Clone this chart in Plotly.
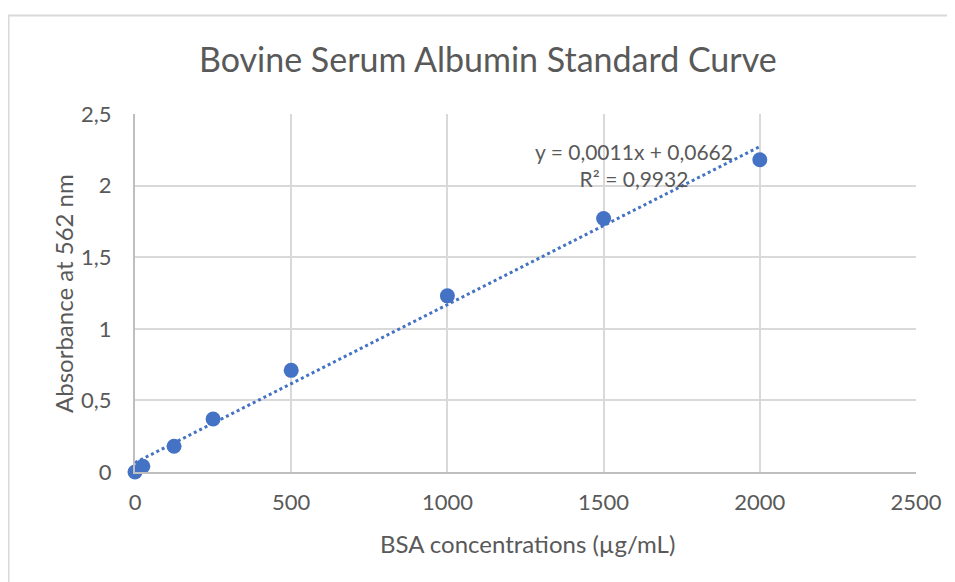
import numpy as np
import plotly.graph_objects as go

# Data
bsa_conc = [0, 25, 125, 250, 500, 1000, 1500, 2000]
absorbance = [0.0, 0.04, 0.18, 0.37, 0.71, 1.23, 1.77, 2.18]

x_tickvals = [0, 500, 1000, 1500, 2000, 2500]
x_ticktext = ["0", "500", "1000", "1500", "2000", "2500"]
y_tickvals = [0, 0.5, 1, 1.5, 2, 2.5]
y_ticktext = ["0", "0,5", "1", "1,5", "2", "2,5"]

title_text = "Bovine Serum Albumin Standard Curve"
x_title = "BSA concentrations (µg/mL)"
y_title = "Absorbance at 562 nm"
trend_label = "y = 0,0011x + 0,0662<br>R² = 0,9932"

# Linear trendline from the data
slope, intercept = np.polyfit(bsa_conc, absorbance, 1)
trend_x = [min(bsa_conc), max(bsa_conc)]
trend_y = [slope * v + intercept for v in trend_x]

BLUE = "#4472C4"
GRID = "#d9d9d9"
TXT = "#595959"
FONT = "Lato, Liberation Sans, Arial, sans-serif"

# plot area in page pixels (page has an 8px body offset)
OFF = 8
PL, PR, PT, PB = 135, 916, 114, 472
W, H = 955, 582
pw, ph = PR - PL, PB - PT


def px(xp):
    return (xp - PL) / pw


def py(yp):
    return (PB - yp) / ph


fig = go.Figure()
fig.add_trace(go.Scatter(
    x=trend_x, y=trend_y, mode="lines",
    line=dict(color=BLUE, width=3, dash="dot"),
    hoverinfo="skip", showlegend=False, cliponaxis=False,
))
fig.add_trace(go.Scatter(
    x=bsa_conc, y=absorbance, mode="markers",
    marker=dict(color=BLUE, size=15),
    showlegend=False, cliponaxis=False,
))

fig.update_layout(
    width=W, height=H,
    margin=dict(l=PL - OFF, r=W - (PR - OFF), t=PT - OFF, b=H - (PB - OFF)),
    paper_bgcolor="white", plot_bgcolor="white",
    font=dict(family=FONT, color=TXT, size=24),
    showlegend=False,
    annotations=[
        dict(text=title_text, xref="paper", yref="paper",
             x=px(488), y=py(59),
             xanchor="center", yanchor="middle", showarrow=False,
             font=dict(size=34, color=TXT, family=FONT)),
        dict(text=trend_label, xref="x", yref="y",
             x=1596, y=2.145, xanchor="center", yanchor="middle",
             showarrow=False, align="center",
             font=dict(size=21, color=TXT, family=FONT)),
        dict(text=x_title, xref="paper", yref="paper",
             x=px(527), y=py(543), xanchor="center", yanchor="middle",
             showarrow=False, font=dict(size=24, color=TXT, family=FONT)),
        dict(text=y_title, xref="paper", yref="paper",
             x=px(63), y=py(294), xanchor="center", yanchor="middle",
             textangle=-90, showarrow=False,
             font=dict(size=24, color=TXT, family=FONT)),
    ],
    shapes=[
        dict(type="rect", xref="paper", yref="paper",
             x0=px(8.5), x1=px(975),
             y0=py(600), y1=py(15.5),
             line=dict(color=GRID, width=2), layer="below"),
    ],
)

fig.update_xaxes(
    range=[0, 2500], tickvals=x_tickvals, ticktext=x_ticktext,
    showgrid=True, gridcolor=GRID, gridwidth=2,
    zeroline=False, showline=True, linecolor="#bfbfbf", linewidth=2,
    ticks="outside", ticklen=10, tickcolor="rgba(0,0,0,0)",
    tickfont=dict(size=22, color=TXT, family=FONT),
)
fig.update_yaxes(
    range=[0, 2.5], tickvals=y_tickvals, ticktext=y_ticktext,
    showgrid=True, gridcolor=GRID, gridwidth=2,
    zeroline=False, showline=True, linecolor="#bfbfbf", linewidth=2,
    ticks="outside", ticklen=17, tickcolor="rgba(0,0,0,0)",
    tickfont=dict(size=22, color=TXT, family=FONT),
)

fig.write_html("out.html")
